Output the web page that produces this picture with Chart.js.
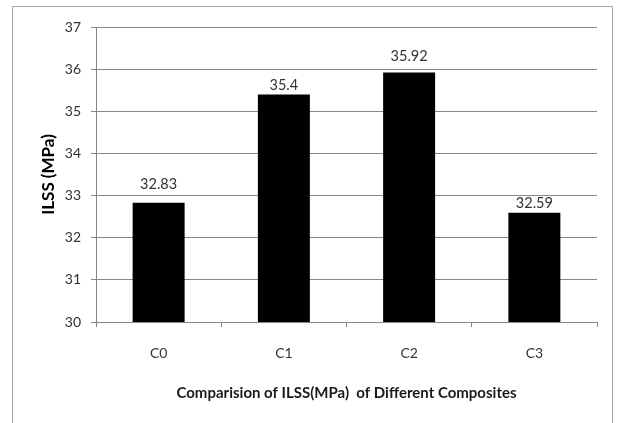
<!DOCTYPE html>
<html>
<head>
<meta charset="utf-8">
<script src="https://cdn.jsdelivr.net/npm/chart.js@4.4.0/dist/chart.umd.min.js"></script>
<style>
  html, body { margin: 0; padding: 0; background: #ffffff; }
  #wrap { width: 620px; height: 423px; }
</style>
</head>
<body>
<div id="wrap"><canvas id="chart" width="620" height="423"></canvas></div>
<script>
// Interlaminar shear strength per composite
const composites = ['C0', 'C1', 'C2', 'C3'];
const ilss = [32.83, 35.4, 35.92, 32.59];
const yTicks = [30, 31, 32, 33, 34, 35, 36, 37];

// how far each value label sits above its bar (px)
const labelLift = [18, 9, 16, 10];

const FONT = 'Lato, "Open Sans", sans-serif';
const GRID = '#868686';
const TEXT = '#333333';

// white page with a thin grey frame around the chart
const framePlugin = {
  id: 'frame',
  beforeDraw(chart) {
    const ctx = chart.ctx;
    ctx.save();
    ctx.fillStyle = '#ffffff';
    ctx.fillRect(0, 0, chart.width, chart.height);
    ctx.strokeStyle = '#a6a6a6';
    ctx.lineWidth = 1;
    ctx.strokeRect(12.5, 6.5, 600, chart.height + 10);
    ctx.restore();
  }
};

// value labels above the bars
const valueLabelPlugin = {
  id: 'valueLabels',
  afterDatasetsDraw(chart) {
    const ctx = chart.ctx;
    const meta = chart.getDatasetMeta(0);
    ctx.save();
    ctx.font = '14.5px ' + FONT;
    ctx.fillStyle = TEXT;
    ctx.textAlign = 'center';
    ctx.textBaseline = 'middle';
    meta.data.forEach((bar, i) => {
      ctx.fillText(String(ilss[i]), bar.x, bar.y - labelLift[i]);
    });
    ctx.restore();
  }
};

new Chart(document.getElementById('chart'), {
  type: 'bar',
  data: {
    labels: composites,
    datasets: [{
      data: ilss,
      backgroundColor: '#000000',
      borderWidth: 0,
      barPercentage: 0.415,
      categoryPercentage: 1.0
    }]
  },
  options: {
    responsive: false,
    animation: false,
    devicePixelRatio: 1,
    layout: { padding: { left: 14, top: 27, right: 23, bottom: 21 } },
    plugins: {
      legend: { display: false },
      tooltip: { enabled: false }
    },
    scales: {
      x: {
        offset: true,
        grid: {
          offset: true,
          drawOnChartArea: false,
          drawTicks: true,
          tickLength: 5,
          color: GRID
        },
        border: { display: true, color: GRID },
        ticks: {
          color: TEXT,
          font: { family: FONT, size: 14 },
          padding: 17.6,
          maxRotation: 0
        },
        title: {
          display: true,
          text: 'Comparision of ILSS(MPa)  of Different Composites',
          color: '#1a1a1a',
          font: { family: FONT, size: 15, weight: 'bold' },
          padding: { top: 0, bottom: 0 }
        },
        afterFit(scale) { scale.height = 80; }
      },
      y: {
        min: 30,
        max: 37,
        afterBuildTicks(scale) {
          scale.ticks = yTicks.map(v => ({ value: v }));
        },
        grid: {
          color: GRID,
          drawTicks: true,
          tickLength: 5
        },
        border: { display: true, color: GRID },
        ticks: {
          color: TEXT,
          font: { family: FONT, size: 14 },
          padding: 10
        },
        title: {
          display: true,
          text: 'ILSS (MPa)',
          color: '#000000',
          font: { family: FONT, size: 17, weight: 'bold' },
          padding: { top: 24, bottom: 0 }
        },
        afterFit(scale) { scale.width = 82; }
      }
    }
  },
  plugins: [framePlugin, valueLabelPlugin]
});
</script>
</body>
</html>
